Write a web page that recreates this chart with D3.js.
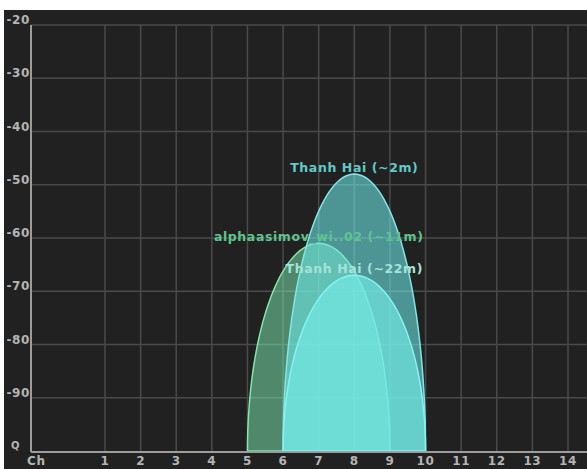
<!DOCTYPE html>
<html><head><meta charset="utf-8">
<script src="https://cdn.jsdelivr.net/npm/d3@7"></script>
<style>
html,body{margin:0;padding:0;background:#fff;}
svg{display:block;}
</style></head>
<body>
<svg id="chart" width="587" height="469"></svg>
<script>
// Data
const channels = [1,2,3,4,5,6,7,8,9,10,11,12,13,14];
const yTicks = [-20,-30,-40,-50,-60,-70,-80,-90];
const yTickLabels = ["-20","-30","-40","-50","-60","-70","-80","-90"];
const networks = ["alphaasimov_wi..02 (~11m)", "Thanh Hai (~2m)", "Thanh Hai (~22m)"];
const netChannels = [7, 8, 8];
const netSignals = [-61, -48, -67];
const netWidth = [2, 2, 2]; // half width in channels
const floorDb = -100;

(function(){
const svg = d3.select("#chart");
const W = 587, H = 469;
const padL = 31, padT = 25, baseY = 451;

svg.append("rect").attr("x",4).attr("y",10).attr("width",W-4).attr("height",H-10).attr("fill","#212121");

const x = d3.scaleLinear().domain([1,14]).range([105,568]);
const y = d3.scaleLinear().domain([floorDb,-20]).range([baseY, padT]);

// grid
const g = svg.append("g");
g.selectAll("line.h").data(yTicks).join("line").attr("class","h")
  .attr("x1", padL).attr("x2", W).attr("y1", d=>y(d)).attr("y2", d=>y(d))
  .attr("stroke","#4a4a4a").attr("stroke-width",1.5);
g.selectAll("line.v").data(channels).join("line").attr("class","v")
  .attr("x1", d=>x(d)).attr("x2", d=>x(d)).attr("y1", padT).attr("y2", baseY)
  .attr("stroke","#4a4a4a").attr("stroke-width",1.5);

// curves
const styles = [
  {fill:"rgb(125,240,180)", op:0.5, stroke:"#7fe8aa", text:"#5fc48e"},
  {fill:"rgb(110,235,235)", op:0.58, stroke:"#80e6e6", text:"#62c8c8"},
  {fill:"rgb(115,235,230)", op:0.66, stroke:"#86f2f2", text:"#a6e2dc"}
];
const line = d3.line().x(d=>x(d[0])).y(d=>y(d[1]));
[0,1,2].forEach(i=>{
  const N = 80;
  const pts = d3.range(N+1).map(k=>{
    const t = Math.PI * k / N;
    return [netChannels[i] - netWidth[i]*Math.cos(t), floorDb + (netSignals[i]-floorDb)*Math.sin(t)];
  });
  svg.append("path").attr("d", line(pts) + "Z")
    .attr("fill", styles[i].fill).attr("fill-opacity", styles[i].op)
    .attr("stroke", styles[i].stroke).attr("stroke-width", 1.5);
});
[0,1,2].forEach(i=>{
  svg.append("text").attr("x", x(netChannels[i])).attr("y", y(netSignals[i]) - 2)
    .attr("text-anchor","middle").attr("fill", styles[i].text)
    .attr("font-family","DejaVu Sans").attr("font-weight","bold").attr("font-size",12.5)
    .attr("letter-spacing",0.6)
    .text(networks[i]);
});

// axes
svg.append("line").attr("x1",padL).attr("x2",padL).attr("y1",padT).attr("y2",baseY+1)
  .attr("stroke","#9c9c9c").attr("stroke-width",2);
svg.append("line").attr("x1",padL).attr("x2",W).attr("y1",baseY+1).attr("y2",baseY+1)
  .attr("stroke","#9c9c9c").attr("stroke-width",2);

const lab = svg.append("g").attr("font-family","DejaVu Sans").attr("font-weight","bold")
  .attr("font-size",12).attr("letter-spacing",0.6).attr("fill","#b4b4b4");
lab.selectAll("text.y").data(yTicks).join("text").attr("class","y")
  .attr("x", 30).attr("y", d=>y(d)-1).attr("text-anchor","end")
  .text((d,i)=>yTickLabels[i]);
lab.append("text").attr("x",11).attr("y",baseY-2).attr("font-size",10).text("Q");
lab.selectAll("text.x").data(channels).join("text").attr("class","x")
  .attr("x", d=>x(d)).attr("y", 465).attr("text-anchor","middle").text(d=>d);
lab.append("text").attr("x",27).attr("y",465).text("Ch");
})();
</script>
</body></html>
